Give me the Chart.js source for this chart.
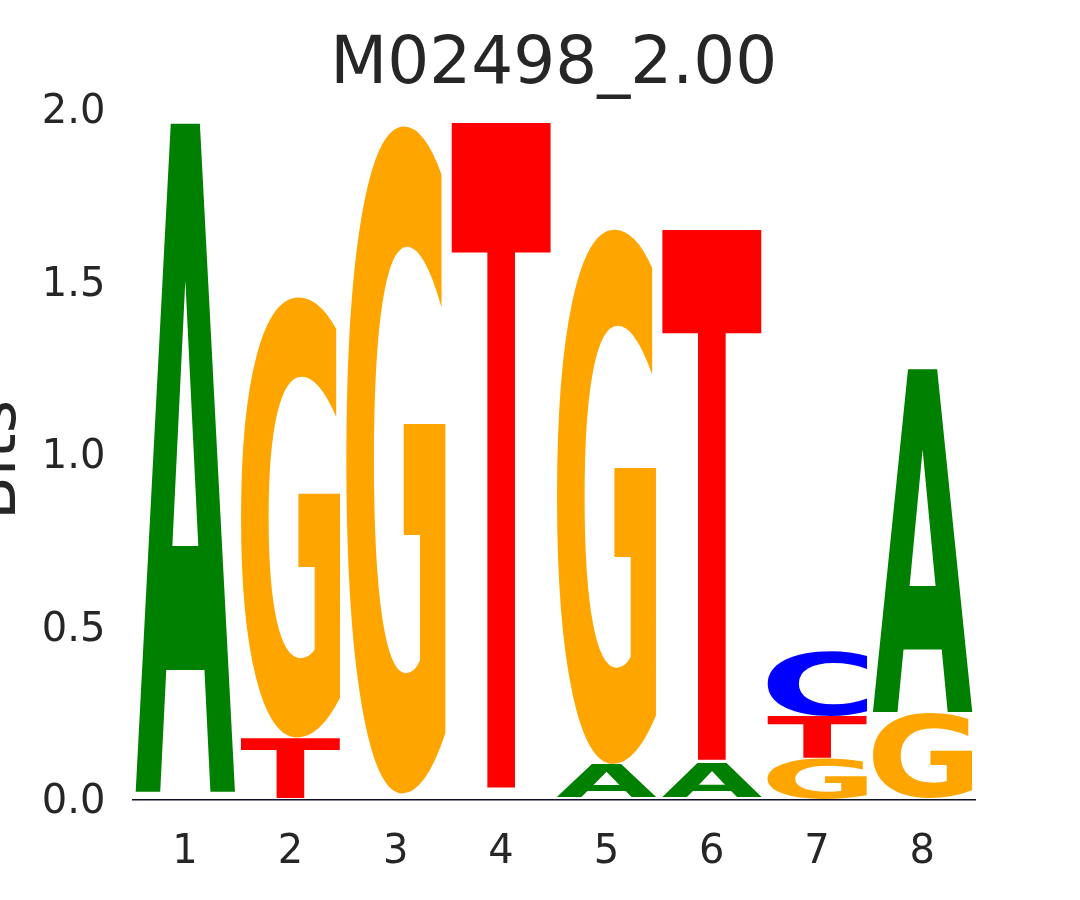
<!DOCTYPE html>
<html>
<head>
<meta charset="utf-8">
<script src="https://cdn.jsdelivr.net/npm/chart.js@4"></script>
<style>
  body { margin: 0; background: #ffffff; }
  #wrap { width: 1080px; height: 900px; position: relative; }
</style>
</head>
<body>
<div id="wrap"><canvas id="logo"></canvas></div>
<script>
// positions of the motif and the height (bits) of each base
const positions = ["1", "2", "3", "4", "5", "6", "7", "8"];
const baseA = [1.939, 0.003, 0.006, 0.008, 0.095, 0.098, 0.004, 0.995];
const baseC = [0.004, 0.003, 0.005, 0.007, 0.003, 0.004, 0.190, 0.003];
const baseG = [0.010, 1.281, 1.942, 0.008, 1.556, 0.004, 0.118, 0.247];
const baseT = [0.010, 0.174, 0.006, 1.942, 0.005, 1.548, 0.122, 0.005];
const yTicks = [0, 0.5, 1.0, 1.5, 2.0];
const chartTitle = "M02498_2.00";
const yTitle = "Bits";

const letterColors = { A: "#008000", C: "#0000ff", G: "#ffa500", T: "#ff0000" };
const textColor = "#262626";

// stack each column from smallest to largest letter
const ranks = [[], [], [], []];
positions.forEach(function (p, i) {
  const col = [
    { l: "A", v: baseA[i] },
    { l: "C", v: baseC[i] },
    { l: "G", v: baseG[i] },
    { l: "T", v: baseT[i] },
  ];
  col.sort(function (a, b) { return a.v - b.v; });
  col.forEach(function (c, r) { ranks[r].push(c); });
});

const datasets = ranks.map(function (r, k) {
  return {
    label: "rank" + k,
    data: r.map(function (c) { return c.v; }),
    letters: r.map(function (c) { return c.l; }),
    backgroundColor: "rgba(0,0,0,0)",
    borderWidth: 0,
    barPercentage: 0.95,
    categoryPercentage: 1.0,
  };
});

// draws each letter stretched into its bar (slivers under 5px are left out)
const letterPlugin = {
  id: "letters",
  afterDatasetsDraw(chart) {
    const ctx = chart.ctx;
    ctx.save();
    ctx.font = "bold 200px 'DejaVu Sans'";
    ctx.textAlign = "left";
    ctx.textBaseline = "alphabetic";
    chart.data.datasets.forEach(function (ds, di) {
      const meta = chart.getDatasetMeta(di);
      meta.data.forEach(function (bar, i) {
        const p = bar.getProps(["x", "y", "base", "width"], true);
        const letter = ds.letters[i];
        const top = Math.min(p.y, p.base);
        const h = Math.abs(p.base - p.y);
        if (h < 5) return;
        const left = p.x - p.width / 2;
        const m = ctx.measureText(letter);
        const gw = m.actualBoundingBoxLeft + m.actualBoundingBoxRight;
        const gh = m.actualBoundingBoxAscent + m.actualBoundingBoxDescent;
        ctx.save();
        ctx.translate(left, top);
        ctx.scale(p.width / gw, h / gh);
        ctx.fillStyle = letterColors[letter];
        ctx.fillText(letter, m.actualBoundingBoxLeft, m.actualBoundingBoxAscent);
        ctx.restore();
      });
    });
    ctx.restore();
  },
};

// title centred over the plot, y title partly off the left edge
const titlesPlugin = {
  id: "titles",
  afterDraw(chart) {
    const ctx = chart.ctx;
    const a = chart.chartArea;
    ctx.save();
    ctx.fillStyle = textColor;
    ctx.font = "66px 'DejaVu Sans'";
    ctx.textAlign = "center";
    ctx.textBaseline = "alphabetic";
    ctx.fillText(chartTitle, (a.left + a.right) / 2, 83);

    ctx.translate(15, (a.top + a.bottom) / 2 + 5);
    ctx.rotate(-Math.PI / 2);
    ctx.font = "64px 'DejaVu Sans'";
    ctx.fillText(yTitle, 0, 0);
    ctx.restore();
  },
};

const ctx = document.getElementById("logo");
new Chart(ctx, {
  type: "bar",
  data: { labels: positions, datasets: datasets },
  plugins: [letterPlugin, titlesPlugin],
  options: {
    responsive: true,
    maintainAspectRatio: false,
    animation: false,
    layout: { padding: { left: 0, right: 105, top: 110, bottom: 0 } },
    plugins: {
      legend: { display: false },
      tooltip: { enabled: false },
      title: { display: false },
    },
    scales: {
      x: {
        stacked: true,
        grid: { display: false, drawTicks: false },
        border: { display: true, color: "#10102a", width: 1.5 },
        ticks: { color: textColor, font: { family: "'DejaVu Sans'", size: 40 }, padding: 29 },
        afterFit: function (s) { s.height = 100; },
      },
      y: {
        stacked: true,
        min: 0,
        max: 2,
        grid: { display: false, drawTicks: false },
        border: { display: false },
        afterBuildTicks: function (s) { s.ticks = yTicks.map(function (v) { return { value: v }; }); },
        ticks: {
          color: textColor,
          font: { family: "'DejaVu Sans'", size: 40 },
          padding: 27,
          labelOffset: 3,
          callback: function (v) { return Number(v).toFixed(1); },
        },
        afterFit: function (s) { s.width = 132.4; },
      },
    },
  },
});
</script>
</body>
</html>
